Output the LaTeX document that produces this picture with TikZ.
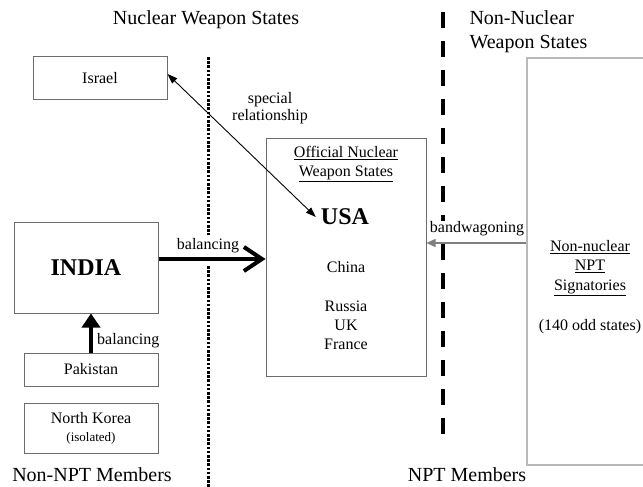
\documentclass[tikz,border=0pt]{standalone}
\usepackage{fontspec}
\setmainfont{Liberation Serif}
\usetikzlibrary{arrows.meta}

\begin{document}
\begin{tikzpicture}[x=1pt, y=-1pt,
    box/.style={draw=gray!85!black, line width=1pt, minimum width=134pt, inner sep=0pt, align=center, font=\fontsize{16}{19}\selectfont},
    heading/.style={font=\fontsize{20}{24}\selectfont},
    lbl/.style={font=\fontsize{16}{17}\selectfont, inner sep=1pt, align=center},
    bigbold/.style={font=\fontsize{24}{28}\selectfont\bfseries},
    thickarrow/.style={line width=4pt},
  ]
  \useasboundingbox (0,0) rectangle (643,487);

  \node[heading] (TitleNWS) at (206,20) {Nuclear Weapon States};
  \node[heading, align=left, anchor=west] (TitleNNWS) at (466,32) {Non-Nuclear\\Weapon States};
  \node[heading] (TitleNonNPT) at (92,475) {Non-NPT Members};
  \node[heading] (TitleNPT) at (467,475) {NPT Members};

  \coordinate (DotTop) at (208,57);
  \coordinate (DotGapA) at (208,235);
  \coordinate (DotGapB) at (208,266);
  \coordinate (DotBot) at (208,487);
  \draw[line width=3pt, dash pattern=on 2.6pt off 1.6pt] (DotTop) -- (DotGapA) (DotGapB) -- (DotBot);
  \coordinate (DashTop) at (443,12);
  \coordinate (DashBot) at (443,440);
  \draw[line width=3.5pt, dash pattern=on 16pt off 13pt] (DashTop) -- (DashBot);

  \node[box, minimum height=43pt] (Israel) at (100,78.5) {Israel};
  \node[box, minimum width=144pt, minimum height=91pt, bigbold] (India) at (86,267.5) {INDIA};
  \node[box, minimum height=33pt] (Pakistan) at (91,369.5) {Pakistan};
  \node[box, minimum height=50pt] (NKorea) at (91,428) {North Korea\\[-1pt]{\fontsize{13}{15}\selectfont (isolated)}};

  \node[box, minimum width=160pt, minimum height=238pt] (Official) at (346,257) {};
  \node[lbl, font=\fontsize{16}{19}\selectfont] (OfficialHead) at (346,164) {\underline{Official Nuclear}\\\underline{Weapon States}};
  \node[bigbold, inner sep=5pt] (USA) at (345,217) {USA};
  \node[lbl] (China) at (346,267) {China};
  \node[lbl, font=\fontsize{16}{19}\selectfont] (Others) at (346,325) {Russia\\UK\\France};

  \node[box, draw=gray!55, line width=1.5pt, minimum width=133pt, minimum height=407pt] (Signatories) at (593.5,261.5) {};
  \node[lbl, font=\fontsize{16}{19.5}\selectfont] (SignHead) at (590,268) {\underline{Non-nuclear}\\\underline{NPT}\\\underline{Signatories}};
  \node[lbl] (OddStates) at (590,327) {(140 odd states)};

  \node[lbl] (SpecialLbl) at (270,108) {special\\relationship};
  \draw[line width=0.9pt, {Triangle[length=10pt,width=7pt]}-{Triangle[length=10pt,width=7pt]}] ([yshift=4.5pt]Israel.east) -- (USA.west);

  \draw[thickarrow, -{Straight Barb[length=18pt,width=24pt]}] (India.east |- 0,259) -- (Official.west |- 0,259);
  \node[lbl] (BalLbl) at (208,246) {balancing};

  \draw[thickarrow, -{Triangle[length=14pt,width=18pt]}] (Pakistan.north) -- (Pakistan.north |- India.south);
  \node[lbl, anchor=west] (BalLblUp) at (96,341) {balancing};

  \node[lbl, fill=white] (BandLbl) at (477,229) {bandwagoning};
  \draw[gray, line width=1.5pt, -{Triangle[length=9pt,width=8pt]}] (Signatories.west |- 0,243) -- (Official.east |- 0,243);
\end{tikzpicture}
\end{document}
